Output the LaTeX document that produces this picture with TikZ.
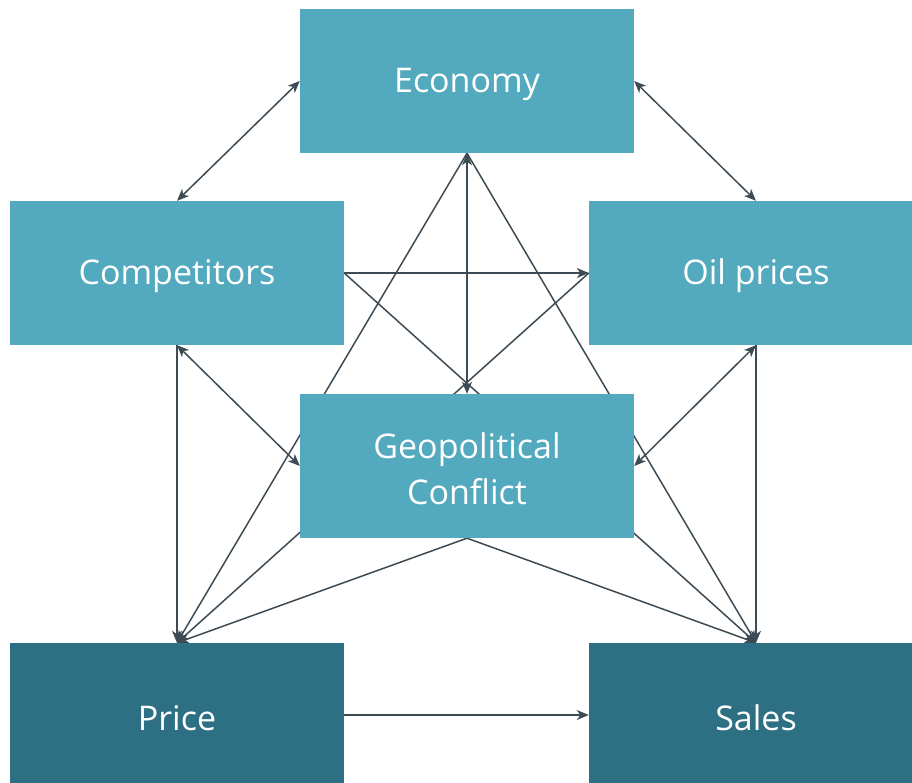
\documentclass[tikz,border=0pt]{standalone}
\usepackage{fontspec}
\setmainfont{Open Sans}
\usetikzlibrary{arrows.meta,backgrounds}
\definecolor{boxlight}{HTML}{53A9BE}
\definecolor{boxdark}{HTML}{2E7083}
\definecolor{linkcol}{HTML}{3D4B55}
\tikzset{
  box/.style={fill=boxlight, draw=none, text=white, minimum width=334pt, minimum height=144pt,
    inner sep=0pt, align=center, font=\fontsize{34}{46}\selectfont},
  darkbox/.style={box, fill=boxdark},
  link/.style={draw=linkcol, line width=1.5pt, -{Stealth[length=12pt,width=10pt,inset=3.5pt]}},
  dlink/.style={link, {Stealth[length=12pt,width=10pt,inset=3.5pt]}-{Stealth[length=12pt,width=10pt,inset=3.5pt]}}
}
\begin{document}
\begin{tikzpicture}[x=1pt,y=1pt]
\useasboundingbox (0,0) rectangle (912,782);
\node[box] (eco) at (467,701) {};
\node[box] (comp) at (177,509) {};
\node[box] (oil) at (756,509) {};
\node[box] (geo) at (467,316) {};
\node[darkbox] (price) at (177,67) {};
\node[darkbox] (sales) at (756,67) {};
\begin{scope}[on background layer]
\draw[dlink] (eco.west) -- (comp.north);
\draw[dlink] (eco.east) -- (oil.north);
\draw[dlink] (eco.south) -- (geo.north);
\draw[link] (eco.south) -- (price.north);
\draw[link] (eco.south) -- (sales.north);
\draw[link] (comp.east) -- (oil.west);
\draw[link] (comp.east) -- (sales.north);
\draw[link] (oil.west) -- (price.north);
\draw[link] (comp.south) -- (price.north);
\draw[dlink] (comp.south) -- (geo.west);
\draw[link] (oil.south) -- (sales.north);
\draw[dlink] (oil.south) -- (geo.east);
\draw[link] (geo.south) -- (price.north);
\draw[link] (geo.south) -- (sales.north);
\draw[link] (price.east) -- (sales.west);
\end{scope}
\node[box, fill=none, yshift=-3pt] at (eco) {Economy};
\node[box, fill=none, yshift=-3pt] at (comp) {Competitors};
\node[box, fill=none, yshift=-3pt] at (oil) {Oil prices};
\node[box, fill=none, yshift=-3pt] at (geo) {Geopolitical\\Conflict};
\node[box, fill=none, yshift=-3pt] at (price) {Price};
\node[box, fill=none, yshift=-3pt] at (sales) {Sales};
\end{tikzpicture}
\end{document}
